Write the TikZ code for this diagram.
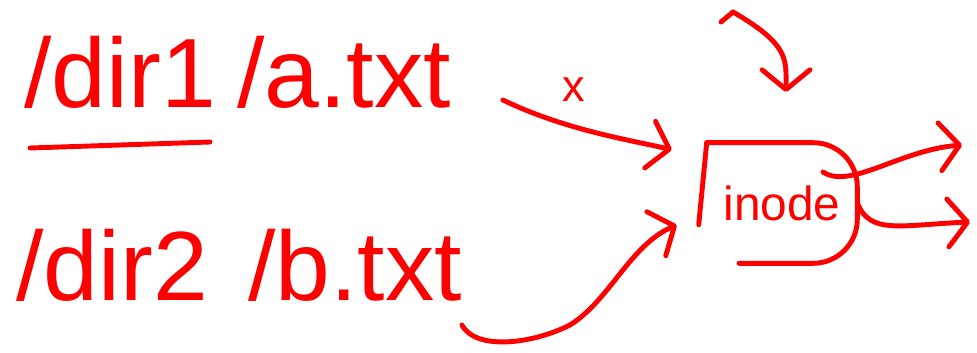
\documentclass[tikz,border=0pt]{standalone}
\usepackage{fontspec}
\setmainfont{Liberation Sans}
\usetikzlibrary{arrows.meta}
\tikzset{
    ink/.style={draw=red, line width=3.5pt, line cap=round, line join=round},
    arrow/.style={ink, -{Straight Barb[length=14pt, width=34pt, round]}},
    path/.style={text=red, inner sep=0pt, anchor=base west, font=\fontsize{70}{70}\selectfont},
    label/.style={text=red, inner sep=0pt, font=\fontsize{32}{32}\selectfont},
    inodebox/.style={text=red, minimum width=3.75cm, minimum height=3cm, inner sep=0pt, font=\fontsize{34}{34}\selectfont}
}
\begin{document}
\begin{tikzpicture}[x=0.025cm, y=0.025cm]
    \useasboundingbox (0,0) rectangle (977,-353);

    % Paths
    \node[path] (dirA) at (24,-108) {/dir1};
    \node[path] (fileA) at (237,-108) {/a.txt};
    \node[path] (dirB) at (16,-300) {/dir2};
    \node[path] (fileB) at (248,-300) {/b.txt};
    \draw[ink] ([shift={(6,-40)}]dirA.base west) -- ([shift={(-6,-34)}]dirA.base east);

    % Inode
    \node[inodebox] (inode) at (782,-203) {inode};
    \draw[ink] (inode.north west) -- ([shift={(-8,-82)}]inode.north west);
    \draw[ink, rounded corners=1.1cm] ([xshift=23]inode.south west) -- (inode.south east) -- (inode.north east) -- (inode.north west);

    % Links
    \coordinate (topsrc) at (733,-12);
    \coordinate (topend) at (786,-92);
    \coordinate (outA) at (962,-145);
    \coordinate (outB) at (970,-222);
    \draw[arrow] ([shift={(52,8)}]fileA.base east) .. controls (565,-130) and (630,-140) .. ([shift={(-35,-7)}]inode.north west)
        node[label, pos=0.38, above=16pt] (cross) {x};
    \draw[arrow] ([shift={(0,-25)}]fileB.base east) .. controls (475,-350) and (530,-345) .. (570,-325)
        .. controls (610,-300) and (630,-245) .. ([shift={(-30,-22)}]inode.west);
    \draw[ink] ([shift={(-12,-10)}]topsrc) -- (topsrc);
    \draw[arrow] (topsrc) .. controls (790,-45) and (786,-60) .. (topend);
    \draw[arrow] ([shift={(41,31)}]inode.center) .. controls (850,-190) and (900,-150) .. (outA);
    \draw[arrow] (inode.east) .. controls (870,-235) and (900,-225) .. (outB);
\end{tikzpicture}
\end{document}
